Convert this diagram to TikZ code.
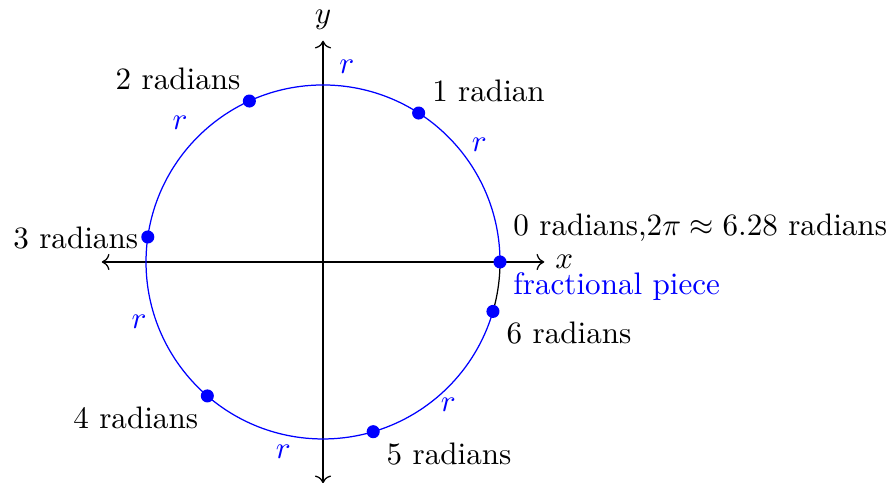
\documentclass[tikz,border=0pt]{standalone}
\usepackage{amsmath}
\usepackage{xcolor}
\usepackage{tikz}
\usetikzlibrary{arrows.meta, positioning}

\begin{document}
\begin{tikzpicture}[
    dot/.style={circle, fill=blue, inner sep=0pt, minimum size=4.2pt},
    radlabel/.style={anchor=base west},
    rlabel/.style={text=blue},
    axis/.style={<->}
  ]
    \useasboundingbox (-3.65,-2.497) rectangle (6.418,2.96);

    % axes
    \coordinate (xl) at (-2.5,0);
    \coordinate (xr) at (2.5,0);
    \coordinate (yb) at (0,-2.5);
    \coordinate (yt) at (0,2.5);
    \draw[axis] (xl) -- (xr) node[right] (xlab) {$x$};
    \draw[axis] (yb) -- (yt) node[above] (ylab) {$y$};

    % circle: six radians in blue, the rest in black
    \draw[blue] (0:2) arc[start angle=0, end angle={deg(6)}, radius=2];
    \draw ({deg(6)}:2) arc[start angle={deg(6)}, end angle=360, radius=2];

    \node[dot] (p0) at (0:2) {};
    \foreach \k in {1,...,6}
      \node[dot] (p\k) at ({deg(\k)}:2) {};

    \node[radlabel] (l1) at (1.111,1.811)   {1 radian};
    \node[radlabel] (l2) at (-2.467,1.951)  {2 radians};
    \node[radlabel] (l3) at (-3.623,0.155)  {3 radians};
    \node[radlabel] (l4) at (-2.945,-1.879) {4 radians};
    \node[radlabel] (l5) at (0.595,-2.294)  {5 radians};
    \node[radlabel] (l6) at (1.951,-0.919)  {6 radians};
    \node[radlabel] (l0) at (2.027,0.294)   {0 radians,$2\pi\approx 6.28$ radians};
    \node[radlabel, text=blue] (frac) at (2.027,-0.373) {fractional piece};

    \node[rlabel] (r1) at (1.766,1.322)   {$r$};
    \node[rlabel] (r2) at (0.268,2.207)   {$r$};
    \node[rlabel] (r3) at (-1.616,1.567)  {$r$};
    \node[rlabel] (r4) at (-2.079,-0.675) {$r$};
    \node[rlabel] (r5) at (-0.449,-2.144) {$r$};
    \node[rlabel] (r6) at (1.416,-1.616)  {$r$};
  \end{tikzpicture}
\end{document}
